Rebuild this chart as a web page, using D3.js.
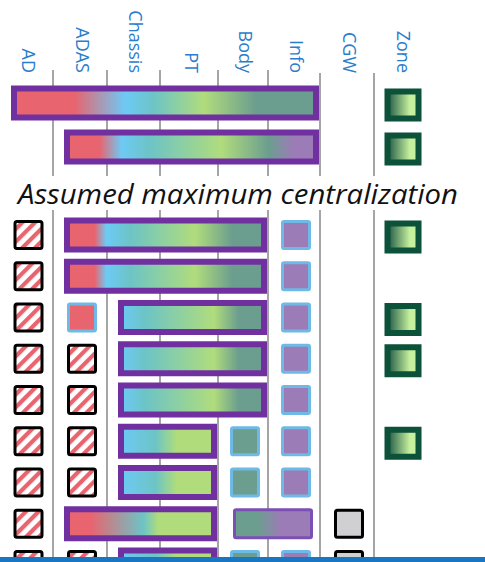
<!DOCTYPE html>
<html>
<head>
<meta charset="utf-8">
<script src="https://cdn.jsdelivr.net/npm/d3@7"></script>
<style>
  body { margin: 0; background: #fff; }
  svg { display: block; }
</style>
</head>
<body>
<svg id="chart" width="485" height="562"></svg>
<script>
var columns = ["AD", "ADAS", "Chassis", "PT", "Body", "Info", "CGW", "Zone"];
var title = "Assumed maximum centralization";

// first two rows sit above the title, the rest below it
var upperRows = [0, 1];
var lowerRows = [2, 3, 4, 5, 6, 7, 8, 9, 10];

// merged domain controllers: row, first and last column, colour stops along the bar
var mergedBars = [
  {row: 0, from: "AD", to: "Info", stops: [[0, "AD"], [0.2, "AD"], [0.37, "Chassis"], [0.46, "mix"], [0.63, "PT"], [0.8, "Body"], [1, "Body"]]},
  {row: 1, from: "ADAS", to: "Info", stops: [[0, "AD"], [0.13, "AD"], [0.22, "Chassis"], [0.33, "mix"], [0.62, "PT"], [0.81, "Body"], [0.91, "Info"], [1, "Info"]]},
  {row: 2, from: "ADAS", to: "Body", stops: [[0, "AD"], [0.14, "AD"], [0.2, "Chassis"], [0.32, "mix"], [0.65, "PT"], [0.84, "Body"], [1, "Body"]]},
  {row: 3, from: "ADAS", to: "Body", stops: [[0, "AD"], [0.14, "AD"], [0.2, "Chassis"], [0.32, "mix"], [0.65, "PT"], [0.84, "Body"], [1, "Body"]]},
  {row: 4, from: "Chassis", to: "Body", stops: [[0, "Chassis"], [0.17, "mix"], [0.65, "PT"], [0.82, "Body"], [1, "Body"]]},
  {row: 5, from: "Chassis", to: "Body", stops: [[0, "Chassis"], [0.17, "mix"], [0.65, "PT"], [0.82, "Body"], [1, "Body"]]},
  {row: 6, from: "Chassis", to: "Body", stops: [[0, "Chassis"], [0.17, "mix"], [0.65, "PT"], [0.82, "Body"], [1, "Body"]]},
  {row: 7, from: "Chassis", to: "PT", stops: [[0, "Chassis"], [0.37, "mix"], [0.6, "PT"], [1, "PT"]]},
  {row: 8, from: "Chassis", to: "PT", stops: [[0, "Chassis"], [0.37, "mix"], [0.6, "PT"], [1, "PT"]]},
  {row: 9, from: "ADAS", to: "PT", stops: [[0, "AD"], [0.16, "AD"], [0.52, "mix"], [0.62, "PT"], [1, "PT"]]},
  {row: 10, from: "Chassis", to: "PT", stops: [[0, "Chassis"], [0.37, "mix"], [0.6, "PT"], [1, "PT"]]}
];
// smaller merge drawn with a thin frame
var thinBars = [
  {row: 9, from: "Body", to: "Info", stops: [[0, "Body"], [0.3, "Body"], [0.6, "Info"], [1, "Info"]]}
];

// functions that are not used (hatched)
var hatchedCells = [
  {row: 2, col: "AD"}, {row: 3, col: "AD"}, {row: 4, col: "AD"}, {row: 5, col: "AD"},
  {row: 5, col: "ADAS"}, {row: 6, col: "AD"}, {row: 6, col: "ADAS"}, {row: 7, col: "AD"},
  {row: 7, col: "ADAS"}, {row: 8, col: "AD"}, {row: 8, col: "ADAS"}, {row: 9, col: "AD"},
  {row: 10, col: "AD"}, {row: 10, col: "ADAS"}
];
// single domain controllers
var singleCells = [
  {row: 2, col: "Info"}, {row: 3, col: "Info"}, {row: 4, col: "ADAS"}, {row: 4, col: "Info"},
  {row: 5, col: "Info"}, {row: 6, col: "Info"}, {row: 7, col: "Body"}, {row: 7, col: "Info"},
  {row: 8, col: "Body"}, {row: 8, col: "Info"}, {row: 10, col: "Body"}, {row: 10, col: "Info"}
];
var gatewayRows = [9, 10];
var zoneRows = [0, 1, 2, 4, 5, 7];

var svg = d3.select("#chart");
var defs = svg.append("defs");

var edge = d3.scaleLinear()
    .domain(d3.range(columns.length + 1))
    .range([0, 53, 107, 160, 218, 268, 320, 374, 428]);
function colStart(c) { return edge(columns.indexOf(c)); }
function colEnd(c) { return edge(columns.indexOf(c) + 1); }
function colMid(c) { return (colStart(c) + colEnd(c)) / 2; }

var yUpper = d3.scaleLinear().domain([0, 1]).range([103, 147]);
var yLower = d3.scaleLinear().domain([2, 10]).range([235, 565]);
function rowY(r) { return upperRows.indexOf(r) >= 0 ? yUpper(r) : yLower(r); }

var colour = d3.scaleOrdinal()
    .domain(["AD", "ADAS", "Chassis", "mix", "PT", "Body", "Info"])
    .range(["#e8646f", "#e8646f", "#6dcaf5", "#6cc4c6", "#b0dc7c", "#6b9e8e", "#9b7cb6"]);

// hatch pattern
var hatch = defs.append("pattern")
    .attr("id", "hatch")
    .attr("patternUnits", "userSpaceOnUse")
    .attr("width", 9)
    .attr("height", 9)
    .attr("patternTransform", "rotate(45)");
hatch.append("rect").attr("width", 9).attr("height", 9).attr("fill", "#fff");
hatch.append("rect").attr("width", 4.2).attr("height", 9).attr("fill", "#e8646f");

var zoneGrad = defs.append("linearGradient").attr("id", "zoneGrad");
zoneGrad.append("stop").attr("offset", "0%").attr("stop-color", "#1e5644");
zoneGrad.append("stop").attr("offset", "72%").attr("stop-color", "#c6ef9e");
zoneGrad.append("stop").attr("offset", "100%").attr("stop-color", "#c6ef9e");

function addGradient(id, stops) {
  var g = defs.append("linearGradient").attr("id", id);
  stops.forEach(function(s) {
    g.append("stop")
      .attr("offset", (s[0] * 100) + "%")
      .attr("stop-color", colour(s[1]));
  });
}

// column separators
svg.append("g").selectAll("line")
  .data(columns.slice(1))
  .enter().append("line")
    .attr("x1", function(c) { return colStart(c); })
    .attr("x2", function(c) { return colStart(c); })
    .attr("y1", function(c) { return columns.indexOf(c) > 5 ? 73 : 70; })
    .attr("y2", 557)
    .attr("stroke", "#7f7f7f")
    .attr("stroke-width", 1.4);

// column headings
svg.append("g").selectAll("text")
  .data(columns)
  .enter().append("text")
    .attr("transform", function(c) { return "translate(" + (colMid(c) + 2) + ",73) rotate(90)"; })
    .attr("dy", "0.35em")
    .attr("text-anchor", "end")
    .style("font-family", "'Open Sans', sans-serif")
    .style("font-size", "18px")
    .style("fill", "#2a7dcc")
    .text(function(c) { return c; });

// title
svg.append("rect")
    .attr("x", 10).attr("y", 176)
    .attr("width", 460).attr("height", 34)
    .attr("fill", "#fff");
svg.append("text")
    .attr("x", 18)
    .attr("y", 204)
    .attr("textLength", 440)
    .attr("lengthAdjust", "spacingAndGlyphs")
    .style("font-family", "'Open Sans', sans-serif")
    .style("font-style", "italic")
    .style("font-size", "27px")
    .style("fill", "#111")
    .text(title);

// merged bars
var barH = 35, barW = 6;
mergedBars.forEach(function(d, i) {
  var id = "bar" + i;
  addGradient(id, d.stops);
  var x0 = colStart(d.from) + 11, x1 = colEnd(d.to) - 1, cy = rowY(d.row);
  svg.append("rect")
    .attr("x", x0 + barW / 2)
    .attr("y", cy - barH / 2 + barW / 2)
    .attr("width", x1 - x0 - barW)
    .attr("height", barH - barW)
    .attr("fill", "url(#" + id + ")")
    .attr("stroke", "#7030a0")
    .attr("stroke-width", barW);
});

thinBars.forEach(function(d, i) {
  var id = "thin" + i;
  addGradient(id, d.stops);
  var x0 = colStart(d.from) + 15, x1 = colEnd(d.to) - 7, cy = rowY(d.row), h = 31;
  svg.append("rect")
    .attr("x", x0 + 1.5)
    .attr("y", cy - h / 2 + 1.5)
    .attr("width", x1 - x0 - 3)
    .attr("height", h - 3)
    .attr("rx", 1.5)
    .attr("fill", "url(#" + id + ")")
    .attr("stroke", "#7b4fb3")
    .attr("stroke-width", 3);
});

// square cells
var cell = 30;
function square(sel, sw) {
  return sel
    .attr("x", function(d) { return colMid(d.col) + 2 - cell / 2 + sw / 2; })
    .attr("y", function(d) { return rowY(d.row) - cell / 2 + sw / 2; })
    .attr("width", cell - sw)
    .attr("height", cell - sw)
    .attr("stroke-width", sw);
}

svg.append("g").selectAll("rect")
  .data(hatchedCells)
  .enter().append("rect")
    .call(square, 3)
    .attr("rx", 2)
    .attr("fill", "url(#hatch)")
    .attr("stroke", "#000");

svg.append("g").selectAll("rect")
  .data(singleCells)
  .enter().append("rect")
    .call(square, 3)
    .attr("rx", 1.5)
    .attr("fill", function(d) { return colour(d.col); })
    .attr("stroke", "#6fb9e6");

svg.append("g").selectAll("rect")
  .data(gatewayRows.map(function(r) { return {row: r, col: "CGW"}; }))
  .enter().append("rect")
    .call(square, 3)
    .attr("rx", 2)
    .attr("fill", "#d0d0d3")
    .attr("stroke", "#000");

// zone controllers
var zw = 37, zh = 33;
svg.append("g").selectAll("rect")
  .data(zoneRows)
  .enter().append("rect")
    .attr("x", colMid("Zone") + 2 - zw / 2 + 3)
    .attr("y", function(r) { return rowY(r) + 2 - zh / 2 + 3; })
    .attr("width", zw - 6)
    .attr("height", zh - 6)
    .attr("fill", "url(#zoneGrad)")
    .attr("stroke", "#0c5139")
    .attr("stroke-width", 6);

// footer band
svg.append("rect")
    .attr("x", 0).attr("y", 557)
    .attr("width", 485).attr("height", 5)
    .attr("fill", "#1976c2");
</script>
</body>
</html>
